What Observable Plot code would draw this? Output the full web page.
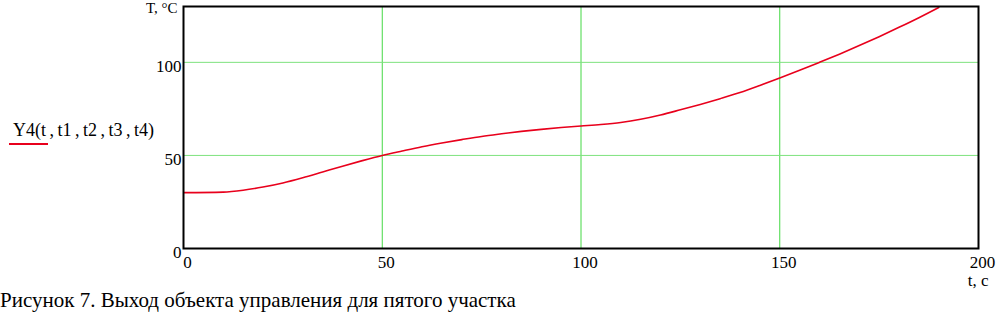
<!DOCTYPE html>
<html><head><meta charset="utf-8">
<script src="https://cdn.jsdelivr.net/npm/d3@7"></script>
<script src="https://cdn.jsdelivr.net/npm/@observablehq/plot@0.6"></script>
<style>
body{margin:0;background:#fff;}
#wrap{position:relative;width:996px;height:313px;font-family:"Liberation Serif","Times New Roman",serif;}
#legend{position:absolute;left:13px;top:121px;font-size:18px;line-height:1;color:#000;white-space:pre;word-spacing:-1px;}
#legline{position:absolute;left:9px;top:143px;width:39px;height:0;border-top:2px solid #e8001c;}
#caption{position:absolute;left:0;top:290px;font-size:21px;line-height:1;white-space:nowrap;color:#000;}
</style></head>
<body><div id="wrap"><div id="chart"></div>
<div id="legend">Y4(t , t1 , t2 , t3 , t4)</div><div id="legline"></div>
<div id="caption">Рисунок 7. Выход объекта управления для пятого участка</div></div>
<script>
const tVals = [0,10,15,20,25,30,35,40,45,50,55,60,65,70,75,80,85,90,95,100,105,110,115,120,125,130,135,140,145,150,155,160,165,170,175,180,185,190];
const TVals = [30,30.3,31.3,33,35.2,38.0,41.1,44.2,47.2,50,52.4,54.7,56.7,58.5,60.2,61.6,62.9,64,65,65.8,66.6,67.7,69.4,71.7,74.5,77.4,80.5,83.8,87.6,91.6,95.7,100,104.4,109,113.8,118.8,124,129.5];
const xTicks = [0,50,100,150,200];
const yTicks = [0,50,100];
const xGrid = [50,100,150];
const yGrid = [50,100];
const yTitle = "T, °C";
const xTitle = "t, c";

const data = tVals.map((t,i)=>({t, T: TVals[i]}));

const chart = Plot.plot({
  width: 996, height: 290,
  marginLeft: 183, marginRight: 18, marginTop: 6, marginBottom: 42,
  style: {fontFamily: "Liberation Serif, Times New Roman, serif", fontSize: "17px", color: "#000", background: "transparent"},
  x: {domain: [0,200]},
  y: {domain: [0,130]},
  marks: [
    Plot.ruleX(xGrid, {stroke: "#44d844", strokeWidth: 1}),
    Plot.ruleY(yGrid, {stroke: "#7ee27e", strokeWidth: 1}),
    Plot.line(data, {x: "t", y: "T", stroke: "#e8001c", strokeWidth: 1.6, curve: "monotone-x", clip: true}),
    Plot.frame({stroke: "#000", strokeWidth: 2}),
    Plot.axisX(xTicks, {tickSize: 0, tickPadding: 7, dx: 4, label: null, fontSize: 17}),
    Plot.axisY(yTicks, {tickSize: 0, tickPadding: 2, dy: 4, label: null, fontSize: 17}),
    Plot.text([yTitle], {frameAnchor: "top-left", dx: -6, dy: -4, lineAnchor: "top", textAnchor: "end", fontSize: 15}),
    Plot.text([xTitle], {frameAnchor: "bottom-right", dx: 10, dy: 37, textAnchor: "end", fontSize: 17})
  ]
});
document.getElementById("chart").appendChild(chart);
</script></body></html>
